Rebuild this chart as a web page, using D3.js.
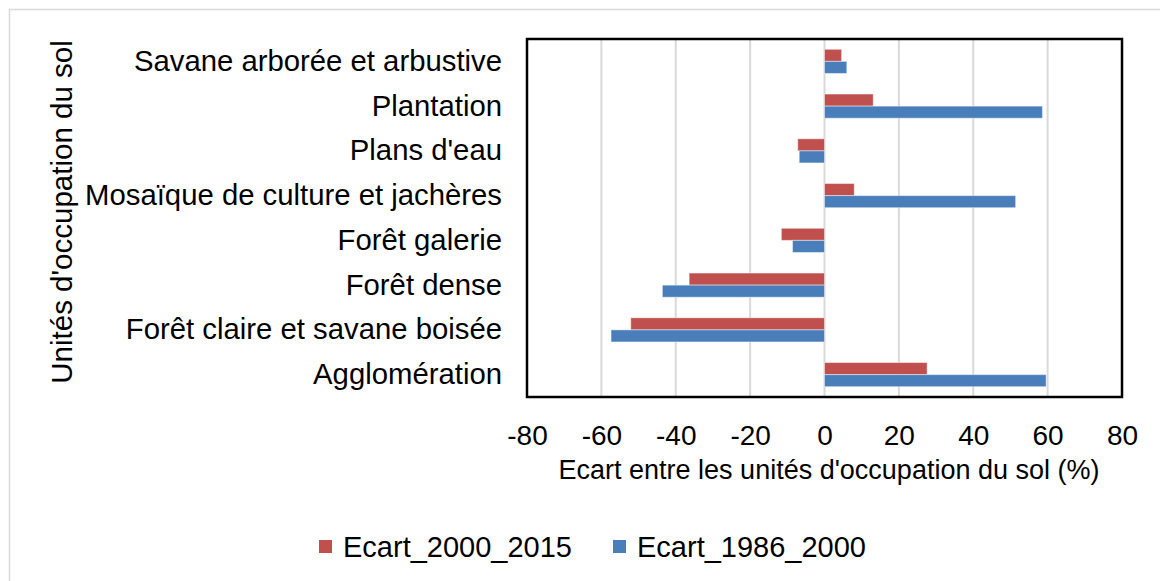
<!DOCTYPE html>
<html>
<head>
<meta charset="utf-8">
<script src="https://cdn.jsdelivr.net/npm/d3@7/dist/d3.min.js"></script>
<style>
  html, body { margin: 0; padding: 0; background: #fff; }
  svg { display: block; font-family: "Liberation Sans", Arial, sans-serif; }
</style>
</head>
<body>
<svg id="chart" width="1160" height="581"></svg>
<script>
// Land-use categories, listed top to bottom
const categories = [
  "Savane arborée et arbustive",
  "Plantation",
  "Plans d'eau",
  "Mosaïque de culture et jachères",
  "Forêt galerie",
  "Forêt dense",
  "Forêt claire et savane boisée",
  "Agglomération"
];
// Change (%) between the two periods
const ecart_2000_2015 = [4.6, 13.1, -7.2, 8.0, -11.6, -36.4, -52.1, 27.6];
const ecart_1986_2000 = [6.0, 58.6, -6.8, 51.4, -8.6, -43.6, -57.4, 59.6];
const seriesNames = ["Ecart_2000_2015", "Ecart_1986_2000"];
const seriesColors = ["#C0504D", "#4A7EBB"];
const xTicks = [-80, -60, -40, -20, 0, 20, 40, 60, 80];

const svg = d3.select("#chart");

// outer chart-area border
svg.append("rect")
  .attr("x", 9.5).attr("y", 9.5)
  .attr("width", 1300).attr("height", 800)
  .attr("fill", "none").attr("stroke", "#d9d9d9").attr("stroke-width", 1.5);

const plot = { left: 527, right: 1122, top: 39, bottom: 397 };

const x = d3.scaleLinear().domain([-80, 80]).range([plot.left, plot.right]);
const y = d3.scaleBand().domain(categories).range([plot.top, plot.bottom])
  .paddingInner(0.46).paddingOuter(0.23);
const ySub = d3.scaleBand().domain(seriesNames).range([0, y.bandwidth()]);

// vertical gridlines
svg.append("g").selectAll("line")
  .data(xTicks.filter(t => t > -80 && t < 80))
  .join("line")
  .attr("x1", d => x(d)).attr("x2", d => x(d))
  .attr("y1", plot.top).attr("y2", plot.bottom)
  .attr("stroke", "#d9d9d9").attr("stroke-width", 2);

// bars
const rows = categories.map((c, i) => ({
  cat: c,
  vals: [ecart_2000_2015[i], ecart_1986_2000[i]]
}));
const groups = svg.append("g").selectAll("g")
  .data(rows).join("g")
  .attr("transform", d => `translate(0,${y(d.cat)})`);
groups.selectAll("rect")
  .data(d => d.vals.map((v, j) => ({ v, s: seriesNames[j], c: seriesColors[j] })))
  .join("rect")
  .attr("x", d => x(Math.min(0, d.v)))
  .attr("width", d => Math.abs(x(d.v) - x(0)))
  .attr("y", d => ySub(d.s))
  .attr("height", ySub.bandwidth())
  .attr("fill", d => d.c)
  .attr("stroke", "rgba(255,255,255,0.45)")
  .attr("stroke-width", 1);

// plot frame
svg.append("rect")
  .attr("x", plot.left).attr("y", plot.top)
  .attr("width", plot.right - plot.left).attr("height", plot.bottom - plot.top)
  .attr("fill", "none").attr("stroke", "#000").attr("stroke-width", 2.5);

// x axis labels (plain hyphen for negatives)
const xAxis = d3.axisBottom(x).tickValues(xTicks).tickSize(0).tickPadding(0)
  .tickFormat(d => String(d));
const gx = svg.append("g")
  .attr("transform", `translate(0,${plot.bottom})`)
  .call(xAxis);
gx.select(".domain").remove();
gx.selectAll("text")
  .attr("y", 48).attr("dy", null)
  .attr("font-size", 28).attr("fill", "#000")
  .attr("font-family", "Liberation Sans, Arial, sans-serif");

// y axis labels
const yAxis = d3.axisLeft(y).tickSize(0).tickPadding(25);
const gy = svg.append("g")
  .attr("transform", `translate(${plot.left},0)`)
  .call(yAxis);
gy.select(".domain").remove();
gy.selectAll("text")
  .attr("font-size", 29.3).attr("fill", "#000")
  .attr("font-family", "Liberation Sans, Arial, sans-serif");

// axis titles
svg.append("text")
  .attr("x", 829).attr("y", 479)
  .attr("text-anchor", "middle")
  .attr("font-size", 27)
  .text("Ecart entre les unités d'occupation du sol (%)");

svg.append("text")
  .attr("transform", "translate(72,212) rotate(-90)")
  .attr("text-anchor", "middle")
  .attr("font-size", 29.5)
  .text("Unités d'occupation du sol");

// legend
const legendItems = [
  { name: seriesNames[0], color: seriesColors[0], x: 319 },
  { name: seriesNames[1], color: seriesColors[1], x: 613 }
];
const lg = svg.append("g").selectAll("g").data(legendItems).join("g")
  .attr("transform", d => `translate(${d.x},0)`);
lg.append("rect")
  .attr("x", 0).attr("y", 540).attr("width", 13).attr("height", 13)
  .attr("fill", d => d.color);
lg.append("text")
  .attr("x", 24).attr("y", 557)
  .attr("font-size", 29)
  .text(d => d.name);
</script>
</body>
</html>
